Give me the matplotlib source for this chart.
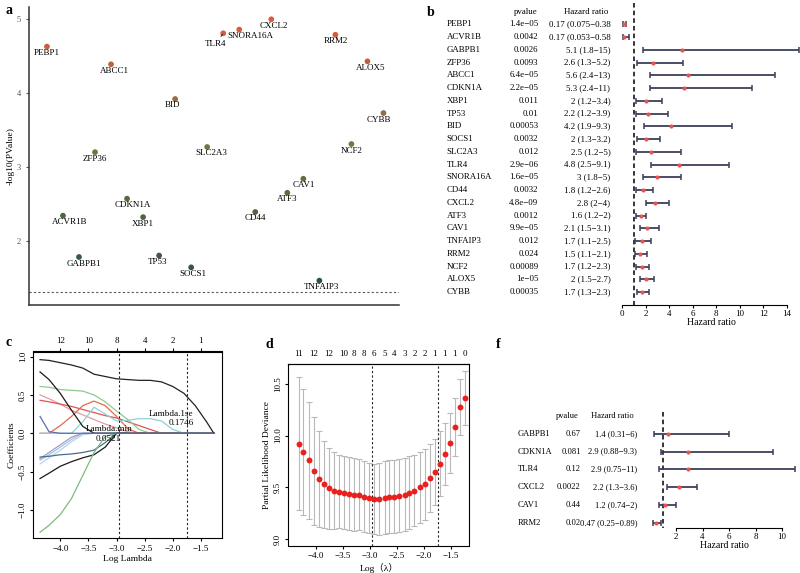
import numpy as np
import matplotlib
matplotlib.use("Agg")
import matplotlib.pyplot as plt
from matplotlib import transforms
from matplotlib.colors import LinearSegmentedColormap

plt.rcParams['font.family'] = ['Liberation Serif', 'DejaVu Serif', 'Noto Sans CJK SC']
plt.rcParams['axes.linewidth'] = 0.8

W, H = 800, 573

# ---- panel a: -log10 p of each gene ----
genes = ["PEBP1", "ACVR1B", "GABPB1", "ZFP36", "ABCC1", "CDKN1A", "XBP1", "TP53",
         "BID", "SOCS1", "SLC2A3", "TLR4", "SNORA16A", "CD44", "CXCL2", "ATF3",
         "CAV1", "TNFAIP3", "RRM2", "NCF2", "ALOX5", "CYBB"]
neglogp = [4.63, 2.34, 1.78, 3.20, 4.39, 2.57, 2.32, 1.80, 3.92, 1.64, 3.27, 4.81,
           4.86, 2.39, 5.00, 2.65, 2.84, 1.46, 4.79, 3.31, 4.43, 3.73]

# ---- panel b: univariate cox ----
pval_b = ["1.4e\u221205", "0.0042", "0.0026", "0.0093", "6.4e\u221205", "2.2e\u221205",
          "0.011", "0.01", "0.00053", "0.0032", "0.012", "2.9e\u221206", "1.6e\u221205",
          "0.0032", "4.8e\u221209", "0.0012", "9.9e\u221205", "0.012", "0.024",
          "0.00089", "1e\u221205", "0.00035"]
hr_b = [0.17, 0.17, 5.1, 2.6, 5.6, 5.3, 2, 2.2, 4.2, 2, 2.5, 4.8, 3, 1.8, 2.8, 1.6,
        2.1, 1.7, 1.5, 1.7, 2, 1.7]
lo_b = [0.075, 0.053, 1.8, 1.3, 2.4, 2.4, 1.2, 1.2, 1.9, 1.3, 1.2, 2.5, 1.8, 1.2, 2,
        1.2, 1.5, 1.1, 1.1, 1.2, 1.5, 1.3]
hi_b = [0.38, 0.58, 15, 5.2, 13, 11, 3.4, 3.9, 9.3, 3.2, 5, 9.1, 5, 2.6, 4, 2, 3.1,
        2.5, 2.1, 2.3, 2.7, 2.3]
hr_text_b = ["0.17 (0.075\u22120.38", "0.17 (0.053\u22120.58", "5.1 (1.8\u221215)",
             "2.6 (1.3\u22125.2)", "5.6 (2.4\u221213)", "5.3 (2.4\u221211)",
             "2 (1.2\u22123.4)", "2.2 (1.2\u22123.9)", "4.2 (1.9\u22129.3)",
             "2 (1.3\u22123.2)", "2.5 (1.2\u22125)", "4.8 (2.5\u22129.1)",
             "3 (1.8\u22125)", "1.8 (1.2\u22122.6)", "2.8 (2\u22124)", "1.6 (1.2\u22122)",
             "2.1 (1.5\u22123.1)", "1.7 (1.1\u22122.5)", "1.5 (1.1\u22122.1)",
             "1.7 (1.2\u22122.3)", "2 (1.5\u22122.7)", "1.7 (1.3\u22122.3)"]

# ---- panel c: lasso coefficient paths ----
path_loglam = [-4.36, -4.2, -4.0, -3.8, -3.6, -3.4, -3.2, -3.0, -2.8, -2.6, -2.4,
               -2.2, -2.0, -1.8, -1.6, -1.4, -1.27]
path_coefs = [
    [-0.40, -0.32, -0.22, -0.11, -0.02, 0, 0, 0, 0, 0, 0, 0, 0, 0, 0, 0, 0],
    [-0.35, -0.28, -0.18, -0.08, 0, 0, 0, 0, 0, 0, 0, 0, 0, 0, 0, 0, 0],
    [-0.33, -0.25, -0.15, -0.05, 0, 0, 0, 0, 0, 0, 0, 0, 0, 0, 0, 0, 0],
    [-0.31, -0.30, -0.28, -0.27, -0.25, -0.22, -0.12, 0, 0, 0, 0, 0, 0, 0, 0, 0, 0],
    [-0.59, -0.52, -0.43, -0.37, -0.32, -0.28, -0.18, 0, 0, 0, 0, 0, 0, 0, 0, 0, 0],
    [-1.29, -1.20, -1.06, -0.85, -0.55, -0.25, -0.04, 0, 0, 0, 0, 0, 0, 0, 0, 0, 0],
    [0.50, 0.45, 0.38, 0.30, 0.24, 0.18, 0.12, 0.07, 0.02, 0, 0, 0, 0, 0, 0, 0, 0],
    [0.43, 0.41, 0.38, 0.35, 0.31, 0.27, 0.23, 0.20, 0.15, 0.10, 0.05, 0, 0, 0, 0, 0, 0],
    [0, 0, 0.10, 0.22, 0.36, 0.42, 0.36, 0.22, 0.06, 0, 0, 0, 0, 0, 0, 0, 0],
    [0.61, 0.60, 0.57, 0.56, 0.55, 0.50, 0.41, 0.29, 0.18, 0.05, 0, 0, 0, 0, 0, 0, 0],
    [0, 0, 0, 0, 0.15, 0.34, 0.25, 0.16, 0.17, 0.19, 0.19, 0.16, 0.05, 0, 0, 0, 0],
    [0.80, 0.70, 0.52, 0.30, 0.09, 0, 0, 0, 0, 0, 0, 0, 0, 0, 0, 0, 0],
    [0.96, 0.95, 0.92, 0.89, 0.85, 0.77, 0.74, 0.71, 0.70, 0.69, 0.69, 0.67, 0.61,
     0.52, 0.36, 0.15, 0],
    [0.22, 0.02, 0, 0, 0, 0, 0, 0, 0, 0, 0, 0, 0, 0, 0, 0, 0],
]
path_colors = ["#b7d3ea", "#9cc5e0", "#a99cc9", "#4a6b8a", "#1a1a1a", "#7dbb7d",
               "#e89aa0", "#e0524f", "#e36b4a", "#8fc98f", "#8ed0dc", "#1a1a1a",
               "#222222", "#5a6fb5"]
path_top_ticks = [-4.0, -3.5, -3.0, -2.5, -2.0, -1.5]
path_top_labels = ["12", "10", "8", "4", "2", "1"]
lam_min, lam_1se = 0.0521, 0.1746

# ---- panel d: cross-validation ----
cv_loglam = [-4.32, -4.23, -4.13, -4.04, -3.95, -3.85, -3.76, -3.67, -3.57, -3.48,
             -3.39, -3.29, -3.20, -3.11, -3.01, -2.92, -2.83, -2.73, -2.64, -2.55,
             -2.46, -2.36, -2.27, -2.18, -2.08, -1.99, -1.90, -1.80, -1.71, -1.62,
             -1.52, -1.43, -1.34, -1.25]
cv_dev = [9.92, 9.84, 9.76, 9.66, 9.58, 9.53, 9.49, 9.47, 9.46, 9.45, 9.44, 9.43,
          9.43, 9.41, 9.40, 9.39, 9.39, 9.40, 9.41, 9.41, 9.42, 9.43, 9.45, 9.47,
          9.50, 9.53, 9.59, 9.65, 9.73, 9.82, 9.93, 10.08, 10.28, 10.36]
cv_se = [0.64, 0.61, 0.56, 0.52, 0.46, 0.42, 0.39, 0.37, 0.35, 0.35, 0.35, 0.35,
         0.34, 0.34, 0.34, 0.34, 0.35, 0.35, 0.35, 0.35, 0.35, 0.35, 0.35, 0.34,
         0.34, 0.34, 0.33, 0.32, 0.31, 0.30, 0.29, 0.28, 0.27, 0.26]
cv_nz_idx = [0, 3, 6, 9, 11, 13, 15, 17, 19, 21, 23, 25, 27, 29, 31, 33]
cv_nz_lab = ["11", "12", "12", "10", "8", "8", "6", "5", "4", "3", "2", "2", "1",
             "1", "1", "0"]

# ---- panel f: multivariate cox ----
genes_f = ["GABPB1", "CDKN1A", "TLR4", "CXCL2", "CAV1", "RRM2"]
pval_f = ["0.67", "0.081", "0.12", "0.0022", "0.44", "0.02"]
hr_f = [1.4, 2.9, 2.9, 2.2, 1.2, 0.47]
lo_f = [0.31, 0.88, 0.75, 1.3, 0.74, 0.25]
hi_f = [6, 9.3, 11, 3.6, 2, 0.89]
hr_text_f = ["1.4 (0.31\u22126)", "2.9 (0.88\u22129.3)", "2.9 (0.75\u221211)",
             "2.2 (1.3\u22123.6)", "1.2 (0.74\u22122)", "0.47 (0.25\u22120.89)"]


fig = plt.figure(figsize=(W / 100, H / 100), dpi=100)


# add axes from a pixel box (left, top, right, bottom)
def px_axes(l, t, r, b):
    return fig.add_axes([l / W, 1 - b / H, (r - l) / W, (b - t) / H])


def letter(x, y, s):
    fig.text(x / W, 1 - y / H, s, fontsize=10, fontweight='bold', ha='left', va='center')


def fmt(v):
    return ("%.1f" % v).replace("-", "\u2212")


# ---------------- a ----------------
ax = px_axes(29, 6.7, 399, 305)
cmap = LinearSegmentedColormap.from_list("a", ["#2f5247", "#6a7a3e", "#e5573a"])
xs = np.arange(1, len(genes) + 1)
ax.scatter(xs, neglogp, c=neglogp, cmap=cmap, s=17, zorder=3, linewidths=0)
ax.axhline(-np.log10(0.05), ls=(0, (2, 2)), color='#555555', lw=0.8)
nudge = {"ACVR1B": 7, "GABPB1": 5, "ABCC1": 3, "CDKN1A": 6, "BID": -3, "SLC2A3": 4,
         "TLR4": -8, "SNORA16A": 11, "CXCL2": 3, "ALOX5": 3, "CYBB": -5, "SOCS1": 2,
         "TNFAIP3": 2, "TP53": -2}
for x, y, g in zip(xs, neglogp, genes):
    dx = nudge.get(g, 0)
    if g == "TLR4":
        ax.annotate(g, (x, y), xytext=(dx, -11), textcoords='offset pixels',
                    ha='center', va='center', fontsize=6.5,
                    arrowprops=dict(arrowstyle='-', color='#222222', lw=0.7,
                                    shrinkA=1, shrinkB=1))
    else:
        ax.annotate(g, (x, y), xytext=(dx, -6.5), textcoords='offset pixels',
                    ha='center', va='center', fontsize=6.5)
ax.set_xlim(-0.12, 22.97)
ax.set_ylim(1.13, 5.17)
ax.set_xticks([])
ax.set_yticks([2, 3, 4, 5])
ax.tick_params(axis='y', labelsize=6, colors='#555555', length=2.5, width=0.8)
for s in ['top', 'right']:
    ax.spines[s].set_visible(False)
for s in ['left', 'bottom']:
    ax.spines[s].set_color('#333333')
    ax.spines[s].set_linewidth(1.1)
ax.set_ylabel('-log10(PValue)', fontsize=6.8, labelpad=1)
letter(5, 10, 'a')


# ---------------- forest helper ----------------
def forest(axf, hr, lo, hi, dash_top, ybot):
    rows = np.arange(len(hr))
    axf.plot([1, 1], [dash_top, ybot], ls=(0, (3, 2)), color='black', lw=1.1)
    axf.hlines(rows, lo, hi, color='#3b3f5a', lw=1.3)
    axf.plot(lo, rows, '|', color='#3b3f5a', ms=4.5, mew=1.1)
    axf.plot(hi, rows, '|', color='#3b3f5a', ms=4.5, mew=1.1)
    axf.scatter(hr, rows, s=9, color='#e8554e', zorder=3, linewidths=0)
    for s in ['top', 'right', 'left']:
        axf.spines[s].set_visible(False)
    axf.set_yticks([])
    axf.tick_params(axis='x', labelsize=6.5, length=2.5, pad=1)
    axf.set_xlabel('Hazard ratio', fontsize=7, labelpad=0)
    axf.patch.set_alpha(0)


def table(axf, names, pv, hrt, xn, xp, xh, xph, xhh, yhead, fs):
    tr = transforms.blended_transform_factory(fig.transFigure, axf.transData)
    for i, (n, p, h) in enumerate(zip(names, pv, hrt)):
        axf.text(xn / W, i, n, transform=tr, ha='left', va='center', fontsize=fs)
        axf.text(xp / W, i, p, transform=tr, ha='right', va='center', fontsize=fs)
        axf.text(xh / W, i, h, transform=tr, ha='right', va='center', fontsize=fs)
    axf.text(xph / W, yhead, 'pvalue', transform=tr, ha='center', va='center', fontsize=fs)
    axf.text(xhh / W, yhead, 'Hazard ratio', transform=tr, ha='center', va='center', fontsize=fs)


# ---------------- b ----------------
axb = px_axes(622, 0, 800, 305)
forest(axb, hr_b, lo_b, hi_b, -1.7, 22.02)
axb.set_xlim(0, 178 / 11.78)
axb.set_ylim(22.02, -1.906)
axb.set_xticks(range(0, 15, 2))
axb.spines['bottom'].set_bounds(0, 14)
table(axb, genes, pval_b, hr_text_b, 446.7, 538.3, 610.3, 526, 585.7, -0.96, 6.4)
letter(427, 13, 'b')

# ---------------- c ----------------
axc = px_axes(33, 351.5, 221.7, 538.3)
for coefs, col in zip(path_coefs, path_colors):
    axc.plot(path_loglam, coefs, color=col, lw=0.9)
for lam in (lam_min, lam_1se):
    axc.axvline(np.log(lam), ls=(0, (2, 2)), color='#222222', lw=0.8)
axc.text(-3.14, 0.05, 'Lambda.min', fontsize=6.6, ha='center', va='center')
axc.text(-3.14, -0.07, '%.4f' % lam_min, fontsize=6.6, ha='center', va='center')
axc.text(-1.63, 0.25, 'Lambda.1se', fontsize=6.6, ha='right', va='center')
axc.text(-1.63, 0.13, '%.4f' % lam_1se, fontsize=6.6, ha='right', va='center')
axc.set_xlim(-4.485, -1.13)
axc.set_ylim(-1.369, 1.066)
xt = [-4.0, -3.5, -3.0, -2.5, -2.0, -1.5]
axc.set_xticks(xt, [fmt(v) for v in xt])
yt = [-1.0, -0.5, 0.0, 0.5, 1.0]
axc.set_yticks(yt, [fmt(v) for v in yt], rotation=90, va='center')
axc.tick_params(labelsize=6.5, length=2.5, pad=2)
topc = axc.secondary_xaxis('top')
topc.set_xticks(path_top_ticks, path_top_labels)
topc.tick_params(labelsize=6.5, length=2.5, pad=2)
axc.set_xlabel('Log Lambda', fontsize=6.8, labelpad=2)
axc.set_ylabel('Coefficients', fontsize=6.8, labelpad=2)
letter(5, 343, 'c')

# ---------------- d ----------------
axd = px_axes(288.3, 364, 469, 545.5)
axd.errorbar(cv_loglam, cv_dev, yerr=cv_se, fmt='none', ecolor='#b8b8b8',
             elinewidth=0.8, capsize=2, capthick=0.8)
axd.scatter(cv_loglam, cv_dev, s=18, color='#e8211e', zorder=3, linewidths=0)
for lam in (lam_min, lam_1se):
    axd.axvline(np.log(lam), ls=(0, (2, 2)), color='#222222', lw=0.8)
axd.set_xlim(-4.51, -1.17)
axd.set_ylim(8.94, 10.69)
axd.set_xticks(xt, [fmt(v) for v in xt])
ydt = [9.0, 9.5, 10.0, 10.5]
axd.set_yticks(ydt, ['%.1f' % v for v in ydt], rotation=90, va='center')
axd.tick_params(labelsize=6.5, length=2.5, pad=2)
topd = axd.secondary_xaxis('top')
topd.set_xticks([cv_loglam[i] for i in cv_nz_idx], cv_nz_lab)
topd.tick_params(labelsize=6.5, length=0, pad=4)
axd.set_xlabel('Log\uff08\u03bb\uff09', fontsize=6.8, labelpad=2)
axd.set_ylabel('Partial Likelihood Deviance', fontsize=6.8, labelpad=2)
letter(265, 345, 'd')

# ---------------- f ----------------
axf = px_axes(649.5, 410.5, 800, 528.3)
forest(axf, hr_f, lo_f, hi_f, -1.2, 5.31)
axf.set_xlim(0, 150.5 / 13.25)
axf.set_ylim(5.31, -1.31)
axf.set_xticks(range(2, 11, 2))
axf.spines['bottom'].set_bounds(2, 10)
table(axf, genes_f, pval_f, hr_text_f, 518, 580.7, 637.3, 567.7, 612.3, -1.01, 6.1)
letter(496, 345, 'f')

fig.savefig('out.png', dpi=100)
